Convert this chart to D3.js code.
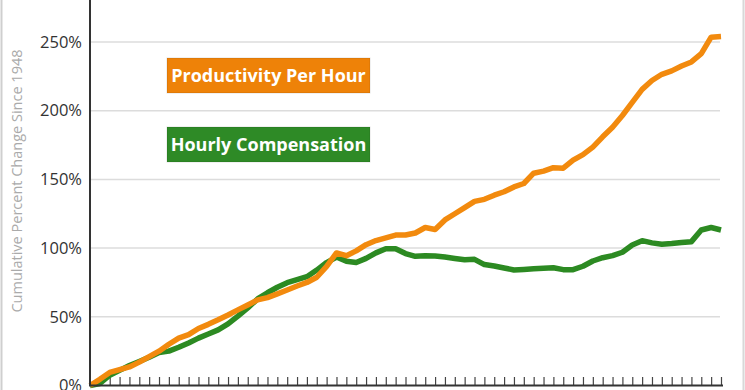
<!DOCTYPE html>
<html>
<head>
<meta charset="utf-8">
<script src="https://cdn.jsdelivr.net/npm/d3@7"></script>
<style>
  html, body { margin: 0; padding: 0; background: #fff; }
  svg { display: block; font-family: "Open Sans", sans-serif; }
</style>
</head>
<body>
<svg id="chart" width="745" height="390"></svg>
<script>
// ---- data ----
const startYear = 1948;
const years = d3.range(1948, 2013);
const productivity = [
  0, 4.5, 9.5, 11.5, 13.5, 17, 21, 25, 30, 34.5,
  37, 41.5, 44.5, 47.8, 51.3, 55, 58.6, 62.3, 64, 66.7,
  69.5, 72.4, 75, 78.8, 86.7, 96.5, 94.5, 98, 102.5, 105.5,
  107.5, 109.5, 109.5, 111, 115, 113.5, 120.5, 125, 129.5, 134,
  135.5, 138.5, 141, 144.5, 147, 154.5, 156, 158.5, 158.2, 164,
  168, 173.5, 181, 188, 196.5, 206, 215.5, 222, 226.5, 229,
  232.5, 235.5, 241.5, 253.5, 254
];
const compensation = [
  0, 1.5, 7.5, 11, 14.5, 17.5, 20.5, 24, 25, 27.8,
  31, 34.5, 37.5, 40.5, 44.8, 50.5, 56.5, 63, 67.5, 71.5,
  74.8, 77, 79.2, 84, 89.5, 93.5, 90.5, 89.5, 92.5, 96.5,
  99.5, 99.5, 96, 94, 94.5, 94.2, 93.5, 92.5, 91.5, 91.8,
  88, 87, 85.5, 84.1, 84.5, 85, 85.3, 85.7, 84.3, 84.3,
  86.8, 90.6, 93, 94.5, 97, 102.3, 105.4, 103.8, 102.8, 103.3,
  104, 104.7, 113.2, 115, 113.2
];
const yTicks = [0, 50, 100, 150, 200, 250];
const seriesNames = ["Productivity Per Hour", "Hourly Compensation"];
const yAxisTitle = "Cumulative Percent Change Since " + startYear;

// ---- layout / style ----
const colors = { prod: "#F28A0E", comp: "#2C8A22", prodBox: "#EE8208", compBox: "#2E8A26" };
const svg = d3.select("#chart");
const x = d3.scaleLinear().domain([1948, 2012]).range([90, 721]);
const y = d3.scaleLinear().domain([0, 250]).range([385.5, 42]);

// frame borders left/right
svg.append("line").attr("x1", 1.5).attr("x2", 1.5).attr("y1", 0).attr("y2", 390)
  .attr("stroke", "#cfcfcf").attr("stroke-width", 2);
svg.append("line").attr("x1", 743.5).attr("x2", 743.5).attr("y1", 0).attr("y2", 390)
  .attr("stroke", "#d8d8d8").attr("stroke-width", 2);

// gridlines
svg.append("g").selectAll("line").data(yTicks.filter(d => d > 0)).join("line")
  .attr("x1", 90).attr("x2", 720)
  .attr("y1", d => y(d)).attr("y2", d => y(d))
  .attr("stroke", "#dcdcdc").attr("stroke-width", 1.5);

// y axis labels
const yAxis = d3.axisLeft(y).tickValues(yTicks).tickSize(0).tickPadding(8)
  .tickFormat(d => d + "%");
const gy = svg.append("g").attr("transform", "translate(90,0)").call(yAxis);
gy.select(".domain").remove();
gy.selectAll("text").attr("font-size", 16.5).attr("fill", "#333")
  .attr("font-family", "'Open Sans', sans-serif");

// y axis title
svg.append("text")
  .attr("transform", "translate(22,181) rotate(-90)")
  .attr("text-anchor", "middle")
  .attr("font-size", 14.5).attr("fill", "#aaa")
  .text(yAxisTitle);

// x axis ticks
const xAxis = d3.axisTop(x).tickValues(years.slice(1)).tickSize(8).tickFormat("");
const gx = svg.append("g").attr("transform", "translate(0,385)").call(xAxis);
gx.select(".domain").remove();
gx.selectAll(".tick line").attr("stroke", "#444").attr("stroke-width", 1.2);

// lines
const line = d3.line().x((d, i) => x(years[i])).y(d => y(d));
svg.append("path").datum(compensation).attr("d", line)
  .attr("fill", "none").attr("stroke", colors.comp).attr("stroke-width", 5.5)
  .attr("stroke-linejoin", "round");
svg.append("path").datum(productivity).attr("d", line)
  .attr("fill", "none").attr("stroke", colors.prod).attr("stroke-width", 5.5)
  .attr("stroke-linejoin", "round");

// axis lines
svg.append("line").attr("x1", 90).attr("x2", 90).attr("y1", 0).attr("y2", 386)
  .attr("stroke", "#333").attr("stroke-width", 2);
svg.append("line").attr("x1", 89).attr("x2", 723).attr("y1", 385.5).attr("y2", 385.5)
  .attr("stroke", "#333").attr("stroke-width", 2);

// legend boxes
const legend = [
  { name: seriesNames[0], fill: colors.prodBox, y: 58 },
  { name: seriesNames[1], fill: colors.compBox, y: 127 }
];
legend.forEach(l => {
  const g = svg.append("g").attr("transform", `translate(167,${l.y})`);
  g.append("rect").attr("width", 203).attr("height", 35)
    .attr("fill", l.fill).attr("stroke", "rgba(0,0,0,0.12)").attr("stroke-width", 1);
  g.append("text").attr("x", 101.5).attr("y", 24).attr("text-anchor", "middle")
    .attr("font-size", 18).attr("font-weight", "bold").attr("fill", "#fff")
    .text(l.name);
});
</script>
</body>
</html>
